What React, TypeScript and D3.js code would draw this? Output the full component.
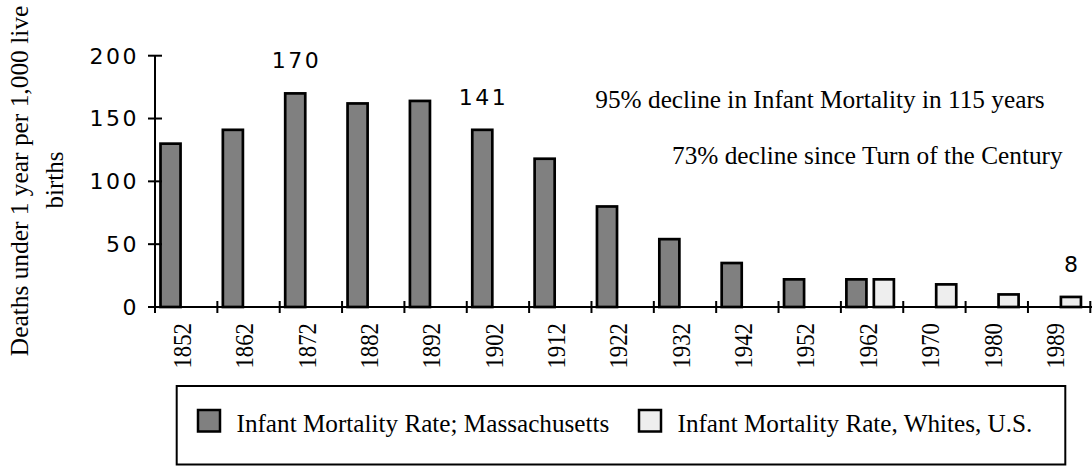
import React from "react";
import * as d3 from "d3";

const years = ["1852","1862","1872","1882","1892","1902","1912","1922","1932","1942","1952","1962","1970","1980","1989"];
const massachusetts: (number | null)[] = [130,141,170,162,164,141,118,80,54,35,22,22,null,null,null];
const whitesUS: (number | null)[] = [null,null,null,null,null,null,null,null,null,null,null,22,18,10,8];
const yTicks = [0,50,100,150,200];
const seriesNames = ["Infant Mortality Rate; Massachusetts","Infant Mortality Rate, Whites, U.S."];
const seriesKeys = ["ma","us"];
const seriesColors = ["#808080","#eeeeee"];
// bars that carry a value label: [seriesKey, year]
const labelled: [string,string][] = [["ma","1872"],["ma","1902"],["us","1989"]];
const annotations = ["95% decline in Infant Mortality in 115 years","73% decline since Turn of the Century"];
const yTitle = ["Deaths under 1 year per 1,000 live","births"];

const W = 1092, H = 466;
const plotLeft = 155, plotRight = 1090.3, y0 = 307, yTop = 55.7;
const serif = "'Liberation Serif','Times New Roman',serif";
const sans = "'DejaVu Sans',Verdana,sans-serif";

export default function App() {
  const x = d3.scaleBand<string>().domain(years).range([plotLeft, plotRight]).paddingInner(0).paddingOuter(0);
  const x1 = d3.scaleBand<string>().domain(seriesKeys).range([5.5, 53]).paddingInner(0.27);
  const y = d3.scaleLinear().domain([0, 200]).range([y0, yTop]);
  const data: Record<string,(number|null)[]> = { ma: massachusetts, us: whitesUS };
  const bw = x1.bandwidth();

  return (
    <svg width={W} height={H} style={{ position: "absolute", left: 0, top: 0, background: "#fff" }}>
      {/* y title */}
      <g transform={`translate(28,181) rotate(-90)`}>
        <text textAnchor="middle" fontFamily={serif} fontSize={25.4} fill="#000">{yTitle[0]}</text>
      </g>
      <g transform={`translate(63,180) rotate(-90)`}>
        <text textAnchor="middle" fontFamily={serif} fontSize={25} fill="#000">{yTitle[1]}</text>
      </g>

      {/* bars */}
      {seriesKeys.map((k, si) =>
        years.map((yr, i) => {
          const v = data[k][i];
          if (v == null) return null;
          const bx = (x(yr) as number) + (x1(k) as number);
          return (
            <rect key={k + yr} x={bx} y={y(v)} width={bw} height={y0 - y(v)}
              fill={seriesColors[si]} stroke="#000" strokeWidth={2.7} />
          );
        })
      )}

      {/* axes */}
      <line x1={plotLeft} x2={plotLeft} y1={yTop} y2={y0} stroke="#000" strokeWidth={2} />
      {yTicks.map(t => (
        <g key={t}>
          <line x1={plotLeft - 7} x2={plotLeft + 7} y1={y(t)} y2={y(t)} stroke="#000" strokeWidth={2} />
          <text x={139} y={y(t)} dy="0.36em" textAnchor="end" fontFamily={sans} fontSize={22} letterSpacing={2.5} fill="#000">{t}</text>
        </g>
      ))}
      <line x1={plotLeft - 7} x2={W} y1={y0} y2={y0} stroke="#000" strokeWidth={2} />
      {years.map((yr) => (
        <line key={"t" + yr} x1={x(yr) as number} x2={x(yr) as number} y1={y0 - 6} y2={y0 + 6} stroke="#000" strokeWidth={2} />
      ))}
      <line x1={plotRight} x2={plotRight} y1={y0 - 6} y2={y0 + 6} stroke="#000" strokeWidth={2} />
      {years.map(yr => {
        const cx = (x(yr) as number) + x.bandwidth() / 2 - 4;
        return (
          <g key={"l" + yr} transform={`translate(${cx},323) rotate(-90) scale(0.912,1)`}>
            <text textAnchor="end" dy="0.35em" fontFamily={serif} fontSize={25} fill="#000">{yr}</text>
          </g>
        );
      })}

      {/* value labels */}
      {labelled.map(([k, yr]) => {
        const i = years.indexOf(yr);
        const v = data[k][i] as number;
        const cx = (x(yr) as number) + (x1(k) as number) + bw / 2 + 1.2;
        return (
          <text key={"v" + k + yr} x={cx} y={y(v) - 25} textAnchor="middle" fontFamily={sans} fontSize={22} letterSpacing={2.5} fill="#000">{v}</text>
        );
      })}

      {/* annotations */}
      <text x={595.3} y={108.3} fontFamily={serif} fontSize={25.3} fill="#000">{annotations[0]}</text>
      <text x={672} y={164} fontFamily={serif} fontSize={25.3} fill="#000">{annotations[1]}</text>

      {/* legend */}
      <rect x={176.7} y={386} width={1065.3 - 176.7} height={78.5} fill="none" stroke="#000" strokeWidth={2} />
      {[0, 1].map(si => {
        const sx = si === 0 ? 198 : 639;
        return (
          <g key={"lg" + si}>
            <rect x={sx} y={410} width={22} height={21.5} fill={seriesColors[si]} stroke="#000" strokeWidth={2.5} />
            <text x={sx + 38.5} y={431.5} fontFamily={serif} fontSize={25.2} fill="#000">{seriesNames[si]}</text>
          </g>
        );
      })}
    </svg>
  );
}
